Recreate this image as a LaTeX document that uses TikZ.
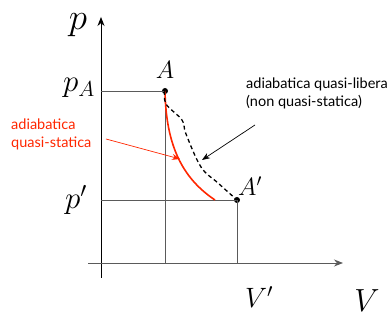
\RequirePackage{fix-cm}
\documentclass[tikz,border=0pt]{standalone}
\usepackage{fontspec}
\setmainfont{Lato}
\usepackage{amsmath}
\usetikzlibrary{arrows.meta}
\usetikzlibrary{positioning}
\definecolor{adred}{RGB}{255,38,0}
\definecolor{axgray}{RGB}{90,90,90}
\tikzstyle{axis} = [line width=0.9pt,-{Stealth[length=9pt,width=7pt]}]
\tikzstyle{guide} = [axgray,line width=0.9pt]
\tikzstyle{arrow} = [line width=0.7pt,-{Stealth[length=8pt,width=6pt]}]
\tikzstyle{state} = [circle,fill=black,inner sep=0pt,minimum size=6pt]
\tikzstyle{lbl} = [inner sep=0pt,font=\fontsize{25}{30}\selectfont]
\tikzstyle{note} = [inner sep=0pt,align=left,anchor=base west,font=\fontsize{14.5}{18}\selectfont]

\begin{document}
\begin{tikzpicture}[x=1pt,y=1pt]
\useasboundingbox (0,0) rectangle (389,320);
% axes
\coordinate (ybot) at (101,42);
\coordinate (ytop) at (101,303);
\coordinate (xleft) at (88,57);
\coordinate (xright) at (343,57);
\draw[axis] (ybot) -- (ytop);
\draw[axis,axgray] (xleft) -- (xright);
% states
\node[state] (a) at (165,229) {};
\node[state] (a2) at (237,120) {};
\coordinate (pa) at (101,229);
\coordinate (p2) at (101,120);
\coordinate (va) at (165,57);
\coordinate (v2) at (237,57);
\draw[guide] (pa) -- (a.center) -- (va);
\draw[guide] (p2) -- (a2.center) -- (v2);
% labels
\node[lbl,font=\fontsize{37}{42}\selectfont] (lp) at (78,295) {$p$};
\node[lbl,font=\fontsize{31}{34}\selectfont] (lpa) at (79,232) {$p_A$};
\node[lbl] (la) at (165,250) {$A$};
\node[lbl] (la2) at (250,134) {$A'$};
\node[lbl,font=\fontsize{31}{34}\selectfont] (lp2) at (76,120) {$p'$};
\node[lbl,font=\fontsize{28}{32}\selectfont] (lv2) at (259,23) {$V'$};
\node[lbl,font=\fontsize{32}{36}\selectfont] (lv) at (367,19) {$V$};
% transformations
\coordinate (qend) at (215,120);
\draw[adred,line width=1.6pt] (a.center) .. controls (166,175) and (182,142) .. (qend);
\draw[dashed,line width=1.3pt,dash pattern=on 4pt off 3pt] plot[smooth,tension=0.6] coordinates
  {(165,229) (166,216) (182,200) (186,186) (201,153) (218,137) (237,120)};
% notes
\node[note,text=adred] (qs) at (11,172) {adiabatica\\quasi-statica};
\node[note] (ql) at (246,213) {adiabatica quasi-libera\\(non quasi-statica)};
\coordinate (qsfrom) at (106,181);
\coordinate (qsto) at (180,161);
\coordinate (qlfrom) at (255,195);
\coordinate (qlto) at (202,160);
\draw[arrow,adred] (qsfrom) -- (qsto);
\draw[arrow] (qlfrom) -- (qlto);
\end{tikzpicture}
\end{document}
